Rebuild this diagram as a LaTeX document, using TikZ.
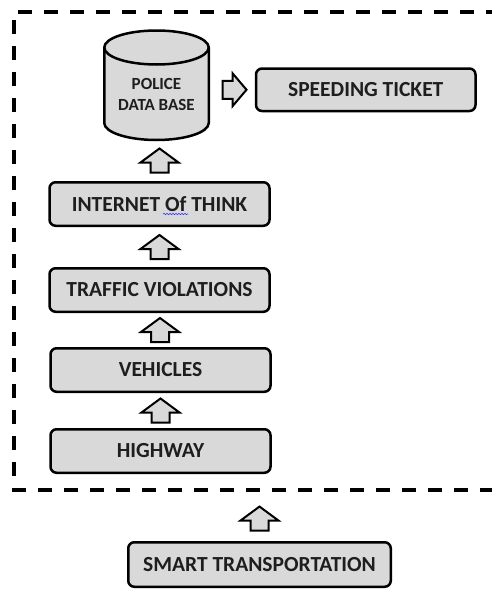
\documentclass[tikz,border=0pt]{standalone}
\usepackage{fontspec}
\setmainfont{Carlito}
\usetikzlibrary{positioning}
\usetikzlibrary{calc}
\usetikzlibrary{decorations.pathmorphing}
\definecolor{boxgray}{HTML}{D9D9D9}
\definecolor{inkgray}{HTML}{1E1E1E}
\tikzset{
  stage/.style={
    draw, line width=2.5pt, rounded corners=6pt, fill=boxgray,
    minimum width=220pt, minimum height=43.5pt, inner sep=2pt,
    font=\fontsize{21.5}{25}\selectfont\bfseries, text=inkgray,
  },
  block up/.pic={
    \draw[line width=2pt, fill=boxgray, line join=miter]
      (-9,12) -- (-9,2) -- (-19,2) -- (0,-12) -- (19,2) -- (9,2) -- (9,12) -- cycle;
  },
  block right/.pic={
    \draw[line width=2pt, fill=boxgray, line join=miter]
      (-12,-9) -- (-2,-9) -- (-2,-16.5) -- (12,0) -- (-2,16.5) -- (-2,9) -- (-12,9) -- cycle;
  },
  frame line/.style={line width=3.5pt, dash pattern=on 14pt off 12pt},
}

\begin{document}
\begin{tikzpicture}[x=1pt, y=-1pt]

  \useasboundingbox (0,0) rectangle (491,589);

  % Define nodes
  \node[stage] (hw) at (160.5,451) {HIGHWAY};
  \node[stage, above=35pt of hw] (veh) {VEHICLES};
  \node[stage, above=34pt of veh, xshift=-1pt] (traffic) {TRAFFIC VIOLATIONS};
  \node[stage, above=40pt of traffic] (iot) {INTERNET Of THINK};

  \node[minimum width=104.5pt, minimum height=109.5pt, inner sep=0pt, outer sep=0pt,
        above=41pt of iot, xshift=-3pt] (db) {};
  \node[stage, minimum width=219.5pt, minimum height=42.5pt,
        right=46pt of db, yshift=-4.5pt] (ticket) {SPEEDING TICKET};

  \node[stage, minimum width=262.5pt, minimum height=44.5pt] (smart) at (259.5,564.5)
    {SMART TRANSPORTATION};

  % Cylinder
  \draw[line width=2.5pt, fill=boxgray]
    ([yshift=-17pt]db.north west) -- ([yshift=17pt]db.south west)
    arc[start angle=180, end angle=360, x radius=52.25pt, y radius=17pt]
    -- ([yshift=-17pt]db.north east)
    arc[start angle=0, end angle=180, x radius=52.25pt, y radius=17pt] -- cycle;
  \draw[line width=2.5pt] ([yshift=-17pt]db.north west)
    arc[start angle=180, end angle=360, x radius=52.25pt, y radius=17pt];
  \node[align=center, font=\fontsize{17}{21}\selectfont\bfseries, text=inkgray,
        inner sep=0pt] (dbtext) at ([yshift=-9.5pt]db.center) {POLICE\\DATA BASE};

  % Frame
  \coordinate (ftl) at (14,12);
  \coordinate (fbl) at (14,490);
  \draw[frame line] (500,12) -- (ftl) -- (fbl) -- (500,490);

  % Connect nodes
  \pic at ($(hw.north)!0.5!(veh.south)$) {block up};
  \pic at ($(veh.north)!0.5!(traffic.south)$) {block up};
  \pic at ($(traffic.north)!0.5!(iot.south)$) {block up};
  \pic at ($(iot.north)!0.5!(iot.north |- db.south)$) {block up};
  \pic at ($(db.east |- ticket.west)!0.56!(ticket.west)$) {block right};
  \pic at ($(smart.north)!0.44!(smart.north |- fbl)$) {block up};

  % Spelling mark
  \draw[blue!80, line width=0.6pt, decorate,
        decoration={snake, amplitude=0.7pt, segment length=3pt}]
    ([xshift=3.5pt, yshift=-10pt]iot.center) -- ++(25,0);

\end{tikzpicture}
\end{document}
